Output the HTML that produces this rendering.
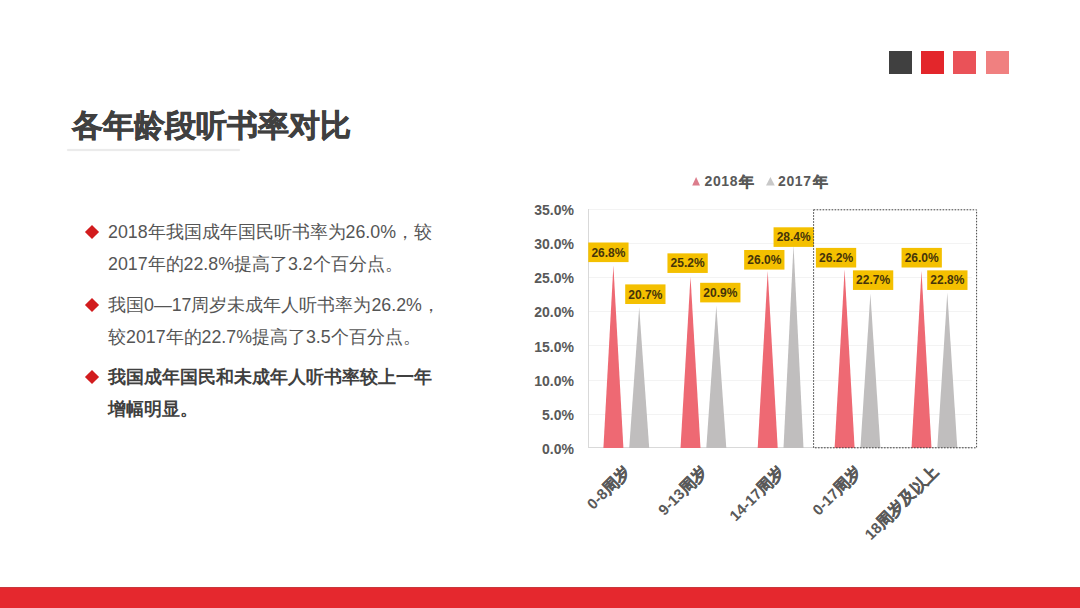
<!DOCTYPE html>
<html><head><meta charset="utf-8">
<style>
html,body{margin:0;padding:0;}
body{width:1080px;height:608px;position:relative;overflow:hidden;background:#fff;font-family:"Liberation Sans",sans-serif;}
.abs{position:absolute;}
.sq{position:absolute;top:51px;width:23px;height:23px;}
#title{left:72px;top:106px;font-size:31.4px;font-weight:bold;color:#404040;-webkit-text-stroke:0.6px #404040;white-space:nowrap;line-height:40px;}
#uline{left:67px;top:149px;width:173px;height:2px;background:#ebebeb;border-radius:1px;box-shadow:0 0 1.5px #f2f2f2;}
.bl{position:absolute;left:108px;font-size:17.8px;color:#555;white-space:nowrap;line-height:32px;}
.dia{position:absolute;left:86.5px;width:10px;height:10px;background:#d21c1e;transform:rotate(45deg);}
#bar{left:0;top:587px;width:1080px;height:20px;background:#e5282e;border-top:1px solid #c8383d;}
</style></head><body>
<div class="sq" style="left:889px;background:#404040"></div>
<div class="sq" style="left:921px;background:#e3262b"></div>
<div class="sq" style="left:953px;background:#ea5258"></div>
<div class="sq" style="left:986px;background:#f08080"></div>

<div id="title" class="abs">各年龄段听书率对比</div>
<div id="uline" class="abs"></div>

<div class="dia" style="top:226.8px"></div>
<div class="bl" style="top:216.3px">2018年我国成年国民听书率为26.0%，较</div>
<div class="bl" style="top:248.3px">2017年的22.8%提高了3.2个百分点。</div>
<div class="dia" style="top:300px"></div>
<div class="bl" style="top:288.7px">我国0—17周岁未成年人听书率为26.2%，</div>
<div class="bl" style="top:321.2px">较2017年的22.7%提高了3.5个百分点。</div>
<div class="dia" style="top:371.8px"></div>
<div class="bl" style="top:360.8px;font-weight:bold;color:#404040">我国成年国民和未成年人听书率较上一年</div>
<div class="bl" style="top:393px;font-weight:bold;color:#404040">增幅明显。</div>

<svg class="abs" style="left:0;top:0" width="1080" height="608" viewBox="0 0 1080 608">
<g stroke="#f3f3f3" stroke-width="1">
<line x1="589" y1="414.5" x2="972" y2="414.5"/>
<line x1="589" y1="380.5" x2="972" y2="380.5"/>
<line x1="589" y1="345.5" x2="972" y2="345.5"/>
<line x1="589" y1="311.5" x2="972" y2="311.5"/>
<line x1="589" y1="277.5" x2="972" y2="277.5"/>
<line x1="589" y1="243.5" x2="972" y2="243.5"/>
<line x1="589" y1="209.5" x2="972" y2="209.5"/>
</g>
<line x1="588.5" y1="209" x2="588.5" y2="448" stroke="#d9d9d9"/>
<line x1="588" y1="447.5" x2="972" y2="447.5" stroke="#d9d9d9"/>
<g fill="#ee6973">
<polygon points="603.4,448 613.4,265.5 623.4,448"/>
<polygon points="680.5,448 690.5,276.4 700.5,448"/>
<polygon points="757.7,448 767.7,271.0 777.7,448"/>
<polygon points="834.6,448 844.6,269.6 854.6,448"/>
<polygon points="911.5,448 921.5,271.0 931.5,448"/>
</g><g fill="#c0bebe">
<polygon points="629.2,448 639.2,307.2 649.2,448"/>
<polygon points="706.3,448 716.3,305.8 726.3,448"/>
<polygon points="783.5,448 793.5,245.0 803.5,448"/>
<polygon points="860.4,448 870.4,293.5 880.4,448"/>
<polygon points="937.3,448 947.3,292.8 957.3,448"/>
</g>
<g font-family="Liberation Sans, sans-serif" font-size="12" font-weight="bold" fill="#45340a" text-anchor="middle">
<rect x="588.25" y="242.50" width="40.3" height="19.6" fill="#f4c000"/><text x="608.40" y="256.60">26.8%</text>
<rect x="625.20" y="284.40" width="40.3" height="19.6" fill="#f4c000"/><text x="645.35" y="298.50">20.7%</text>
<rect x="667.45" y="253.35" width="40.3" height="19.6" fill="#f4c000"/><text x="687.60" y="267.45">25.2%</text>
<rect x="700.15" y="282.80" width="40.3" height="19.6" fill="#f4c000"/><text x="720.30" y="296.90">20.9%</text>
<rect x="744.15" y="250.00" width="40.3" height="19.6" fill="#f4c000"/><text x="764.30" y="264.10">26.0%</text>
<rect x="773.55" y="227.30" width="40.3" height="19.6" fill="#f4c000"/><text x="793.70" y="241.40">28.4%</text>
<rect x="815.90" y="247.90" width="40.3" height="19.6" fill="#f4c000"/><text x="836.05" y="262.00">26.2%</text>
<rect x="852.95" y="270.35" width="40.3" height="19.6" fill="#f4c000"/><text x="873.10" y="284.45">22.7%</text>
<rect x="901.55" y="247.90" width="40.3" height="19.6" fill="#f4c000"/><text x="921.70" y="262.00">26.0%</text>
<rect x="927.20" y="270.35" width="40.3" height="19.6" fill="#f4c000"/><text x="947.35" y="284.45">22.8%</text>
</g>
<rect x="813.6" y="209.8" width="163" height="238" fill="none" stroke="#454545" stroke-width="1" stroke-dasharray="1.6,1.4"/>
<g font-family="Liberation Sans, sans-serif" font-size="14" font-weight="bold" fill="#595959" text-anchor="end">
<text x="574" y="215.0">35.0%</text>
<text x="574" y="249.1">30.0%</text>
<text x="574" y="283.3">25.0%</text>
<text x="574" y="317.4">20.0%</text>
<text x="574" y="351.6">15.0%</text>
<text x="574" y="385.7">10.0%</text>
<text x="574" y="419.8">5.0%</text>
<text x="574" y="454.0">0.0%</text>
</g>
<polygon points="692.2,185.6 696.1,177.1 700,185.6" fill="#dc7d8c"/>
<polygon points="766,185.6 770.4,177.1 774.8,185.6" fill="#c8c8c8"/>
<g font-family="Liberation Sans, sans-serif" font-size="14" font-weight="bold" fill="#595959">
<text x="704.5" y="186.2" letter-spacing="0.6">2018</text><text x="754.3" y="186.5" text-anchor="end" font-size="14.8" stroke="#595959" stroke-width="0.45">年</text><text x="778" y="186.2" letter-spacing="0.6">2017</text><text x="828.2" y="186.5" text-anchor="end" font-size="14.8" stroke="#595959" stroke-width="0.45">年</text></g>
<g font-family="Liberation Sans, sans-serif" font-size="15" font-weight="bold" fill="#595959" text-anchor="end">
<text transform="translate(631.3,472.3) rotate(-45)">0-8<tspan font-size="15.8" stroke="#595959" stroke-width="0.3">周岁</tspan></text>
<text transform="translate(708.4,472.3) rotate(-45)">9-13<tspan font-size="15.8" stroke="#595959" stroke-width="0.3">周岁</tspan></text>
<text transform="translate(785.6,472.3) rotate(-45)">14-17<tspan font-size="15.8" stroke="#595959" stroke-width="0.3">周岁</tspan></text>
<text transform="translate(862.5,472.3) rotate(-45)">0-17<tspan font-size="15.8" stroke="#595959" stroke-width="0.3">周岁</tspan></text>
<text transform="translate(939.4,472.3) rotate(-45)">18<tspan font-size="15.8" stroke="#595959" stroke-width="0.3">周岁及以上</tspan></text>
</g>
</svg>

<div id="bar" class="abs"></div>
</body></html>
